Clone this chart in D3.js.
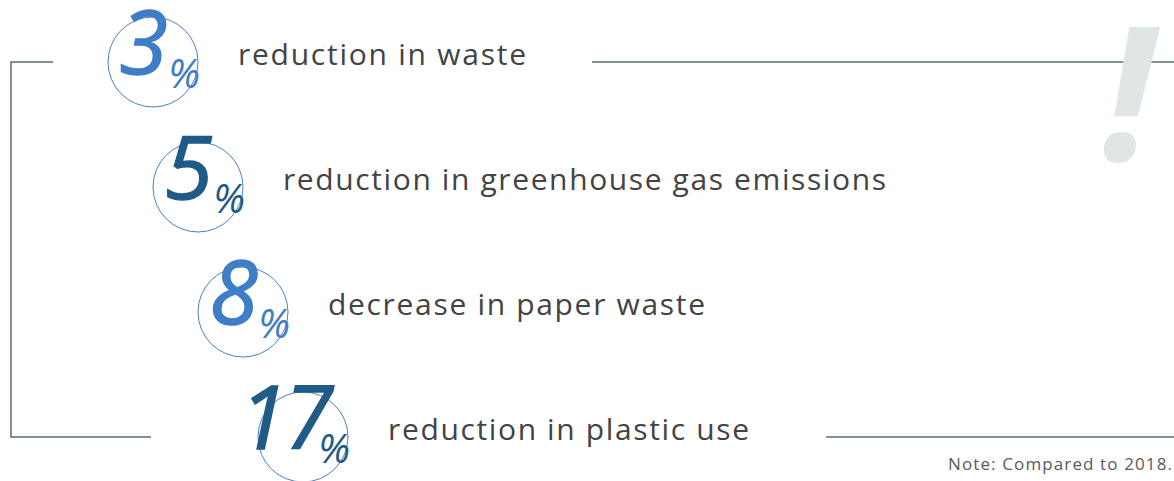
<!DOCTYPE html>
<html>
<head>
<meta charset="utf-8">
<script src="https://cdn.jsdelivr.net/npm/d3@7"></script>
<style>
  html, body { margin: 0; padding: 0; background: #fff; }
  svg { display: block; }
</style>
</head>
<body>
<script>
// data
var values = [3, 5, 8, 17];
var labels = ["reduction in waste", "reduction in greenhouse gas emissions", "decrease in paper waste", "reduction in plastic use"];
var labelWidths = [288, 603, 377, 361]; // measured text length in px
var colorKeys = ["light", "dark", "light", "dark"];
var note = "Note: Compared to 2018.";

var width = 1174, height = 481;
var lineColor = "#5b6b78";
var color = d3.scaleOrdinal().domain(["light", "dark"]).range(["#3f7dc6", "#1f5b87"]);

var svg = d3.select("body").append("svg").attr("width", width).attr("height", height);

var rows = d3.range(values.length);
var y = d3.scalePoint().domain(rows).range([62, 437]);
var x = d3.scaleLinear().domain([0, 3]).range([153, 288]);
var r = 45;

function extra(i) {
    // two-digit numbers push things further right
    return (String(values[i]).length - 1) * 15;
}
function cx(i) { return x(i) + extra(i); }

// bracket on the left
svg.append("path")
    .attr("d", "M53," + y(0) + "H11V" + y(3) + "H151")
    .attr("fill", "none").attr("stroke", lineColor).attr("stroke-width", 1.5);

// right rules
svg.append("line").attr("x1", 592).attr("x2", width).attr("y1", y(0)).attr("y2", y(0))
    .attr("stroke", lineColor).attr("stroke-width", 1.5);
svg.append("line").attr("x1", 826).attr("x2", width).attr("y1", y(3)).attr("y2", y(3))
    .attr("stroke", lineColor).attr("stroke-width", 1.5);

// big exclamation mark
svg.append("text")
    .attr("x", 1128).attr("y", 161)
    .attr("text-anchor", "middle")
    .style("font-family", "'Open Sans', sans-serif")
    .style("font-weight", "bold")
    .style("font-style", "italic")
    .style("font-size", "186px")
    .attr("fill", "#e0e6e6")
    .text("!");

var g = svg.selectAll(".row").data(rows).enter().append("g").attr("class", "row");

g.append("circle")
    .attr("cx", d => cx(d)).attr("cy", d => y(d)).attr("r", r)
    .attr("fill", "none").attr("stroke", "#4a7fc4").attr("stroke-width", 1);

// big numbers, slightly thickened with a stroke in the same colour
g.append("text")
    .attr("x", d => cx(d) + 12 + extra(d)).attr("y", d => y(d) + 12)
    .attr("text-anchor", "end")
    .style("font-family", "'Open Sans', sans-serif")
    .style("font-style", "italic")
    .style("font-size", "88px")
    .style("letter-spacing", "-3px")
    .attr("fill", d => color(colorKeys[d]))
    .attr("stroke", d => color(colorKeys[d]))
    .attr("stroke-width", 1.4)
    .text(d => values[d]);

g.append("text")
    .attr("x", d => cx(d) + r + 2).attr("y", d => y(d) + 26)
    .attr("text-anchor", "end")
    .style("font-family", "'Open Sans', sans-serif")
    .style("font-style", "italic")
    .style("font-size", "40px")
    .attr("fill", d => color(colorKeys[d]))
    .text("%");

g.append("text")
    .attr("x", d => cx(d) + 85).attr("y", d => y(d) + 3)
    .attr("textLength", d => labelWidths[d])
    .attr("lengthAdjust", "spacing")
    .style("font-family", "'Open Sans', sans-serif")
    .style("font-size", "30px")
    .attr("fill", "#434343")
    .text(d => labels[d]);

svg.append("text")
    .attr("x", 948).attr("y", 470)
    .attr("textLength", 224)
    .attr("lengthAdjust", "spacing")
    .style("font-family", "'Open Sans', sans-serif")
    .style("font-size", "17px")
    .attr("fill", "#5a5a5a")
    .text(note);
</script>
</body>
</html>
